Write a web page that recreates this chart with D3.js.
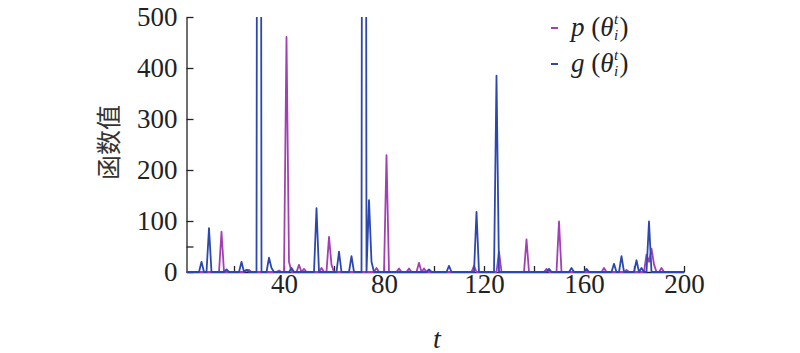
<!DOCTYPE html>
<html lang="zh">
<head>
    <meta charset="UTF-8">
    <script src="https://d3js.org/d3.v7.min.js"></script>
    <style>
        body { margin: 0; background: #fff; }
        svg text { font-family: "Liberation Serif", "DejaVu Serif", serif; }
        svg text.cjk { font-family: "Noto Sans CJK SC", sans-serif; }
    </style>
</head>
<body>
    <div id="chart"></div>

    <script>
        // t = 1..200
        const pValues = [
            0,0,0,0,0,0,0,0,0,0, 0,0,0,0,79,0,0,0,0,0,
            0,0,0,0,4,4,0,0,0,0, 0,0,0,0,0,0,0,3,0,0,
            461,20,0,0,0,14,0,6,0,0, 0,0,0,0,8,0,0,69,14,0,
            0,0,0,0,0,0,0,0,0,0, 0,0,0,0,0,0,8,0,0,0,
            229,0,0,0,0,7,0,0,0,7, 0,0,0,18,0,7,0,0,0,0,
            0,0,0,0,0,0,0,0,0,0, 0,0,0,0,0,12,0,0,0,0,
            0,0,0,0,0,40,0,0,0,0, 0,0,0,0,0,0,64,0,0,0,
            0,0,0,0,6,0,0,0,0,99, 0,0,0,0,0,0,0,0,0,0,
            0,0,0,0,0,0,0,8,0,0, 0,0,0,0,0,0,4,0,0,0,
            0,0,0,0,34,20,46,15,0,0, 8,0,0,0,0,0,0,0,0,0
        ];
        const gValues = [
            0,0,0,0,0,0,20,0,0,86, 0,0,0,0,0,0,5,0,0,0,
            0,0,20,0,4,0,0,0,0,4000, 0,0,0,28,8,0,0,0,0,0,
            0,0,8,0,0,0,0,0,0,0, 0,0,125,0,0,0,0,0,0,0,
            0,40,0,0,0,0,31,0,0,0, 0,4000,0,141,20,0,0,0,0,0,
            0,0,0,0,0,0,0,0,0,0, 0,0,0,0,0,0,0,5,0,0,
            0,0,0,0,0,12,0,0,0,0, 0,0,0,0,0,0,118,0,0,0,
            0,0,0,0,385,0,0,0,0,0, 0,0,0,0,0,0,0,0,0,0,
            0,0,0,0,0,6,0,0,0,0, 0,0,0,0,8,0,0,0,0,0,
            6,0,0,0,0,0,0,0,0,0, 0,16,0,0,31,0,0,0,0,0,
            23,0,8,0,0,99,0,0,0,0, 0,0,0,0,0,0,0,0,0,0
        ];
        const yTicks = [0, 50, 100, 200, 300, 400, 500];
        const yLabels = [0, 100, 200, 300, 400, 500];
        const xTicks = [20, 40, 60, 80, 100, 120, 140, 160, 180, 200];
        const xLabels = [40, 80, 120, 160, 200];
        const purple = "#a33fb5", blue = "#2c47b0";

        const W = 800, H = 353;
        const plotLeft = 186.5, plotRight = 684, plotTop = 17, plotBottom = 272;
        const serif = "'Liberation Serif', 'DejaVu Serif', serif";

        const svg = d3.select("#chart").append("svg")
            .attr("width", W).attr("height", H);

        const x = d3.scaleLinear().domain([1, 200]).range([plotLeft, plotRight]);
        const y = d3.scaleLinear().domain([0, 500]).range([plotBottom, plotTop]);

        svg.append("clipPath").attr("id", "clip")
            .append("rect").attr("x", plotLeft).attr("y", plotTop)
            .attr("width", plotRight - plotLeft + 2).attr("height", plotBottom - plotTop + 2);

        const line = d3.line().x((d, i) => x(i + 1)).y(d => y(d));

        // y axis
        const yAxis = svg.append("g")
            .attr("transform", `translate(${plotLeft},0)`)
            .call(d3.axisLeft(y).tickValues(yTicks).tickSizeInner(-7).tickSizeOuter(0)
                .tickFormat(d => yLabels.includes(d) ? d : ""))
            .attr("font-family", serif);
        yAxis.select(".domain").attr("stroke", "#222").attr("stroke-width", 1.3);
        yAxis.selectAll(".tick line").attr("stroke", "#222").attr("stroke-width", 1.3);
        yAxis.selectAll(".tick text")
            .attr("x", -9).attr("font-size", 27).attr("fill", "#222");

        // x axis
        const xAxis = svg.append("g")
            .attr("transform", `translate(0,${plotBottom})`)
            .call(d3.axisBottom(x).tickValues(xTicks).tickSizeInner(-6).tickSizeOuter(0)
                .tickFormat(d => xLabels.includes(d) ? d : ""))
            .attr("font-family", serif);
        xAxis.select(".domain").attr("stroke", "#222").attr("stroke-width", 1.3);
        xAxis.selectAll(".tick line").attr("stroke", "#222").attr("stroke-width", 1.3);
        xAxis.selectAll(".tick text")
            .attr("y", 2).attr("font-size", 27).attr("fill", "#222");

        const plot = svg.append("g").attr("clip-path", "url(#clip)");
        plot.append("path").datum(pValues)
            .attr("d", line).attr("fill", "none")
            .attr("stroke", purple).attr("stroke-width", 1.8).attr("stroke-linejoin", "round");
        plot.append("path").datum(gValues)
            .attr("d", line).attr("fill", "none")
            .attr("stroke", blue).attr("stroke-width", 1.8).attr("stroke-linejoin", "round");

        // axis titles
        svg.append("text")
            .attr("class", "cjk")
            .attr("transform", `translate(118,${(plotTop + plotBottom) / 2 - 2}) rotate(-90)`)
            .attr("text-anchor", "middle")
            .attr("font-size", 25).attr("fill", "#333")
            .text("函数值");

        svg.append("text")
            .attr("x", 437).attr("y", 348)
            .attr("text-anchor", "middle")
            .attr("font-style", "italic").attr("font-size", 28).attr("fill", "#222")
            .text("t");

        // legend
        const legend = [
            { name: "p", color: purple, y: 28 },
            { name: "g", color: blue, y: 64 }
        ];
        legend.forEach(l => {
            const g = svg.append("g").attr("fill", "#222").attr("font-size", 27);
            g.append("line")
                .attr("x1", 551).attr("x2", 558)
                .attr("y1", l.y).attr("y2", l.y)
                .attr("stroke", l.color).attr("stroke-width", 2);
            const base = l.y + 8;
            const t1 = g.append("text").attr("x", 571).attr("y", base);
            t1.append("tspan").attr("font-style", "italic").text(l.name);
            t1.append("tspan").text(" (");
            t1.append("tspan").attr("font-style", "italic").text("θ");
            const w = t1.node().getComputedTextLength();
            g.append("text").attr("x", 571 + w + 0.5).attr("y", base - 12)
                .attr("font-size", 15).attr("font-style", "italic").text("t");
            g.append("text").attr("x", 571 + w + 0.5).attr("y", base + 4)
                .attr("font-size", 15).attr("font-style", "italic").text("i");
            g.append("text").attr("x", 571 + w + 6).attr("y", base).text(")");
        });
    </script>
</body>
</html>
